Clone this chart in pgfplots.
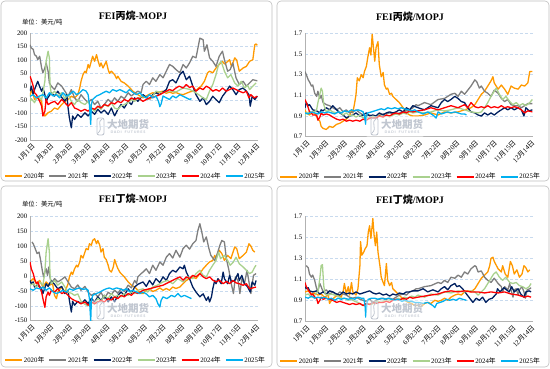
\documentclass[border=0pt]{standalone}
\usepackage{fontspec}
\setmainfont{Liberation Serif}
\newfontfamily\cjk{Noto Sans CJK SC}
\usepackage{pgfplots}
\pgfplotsset{compat=1.18}
\definecolor{cA}{RGB}{255,153,0}
\definecolor{cB}{RGB}{127,127,127}
\definecolor{cC}{RGB}{0,32,96}
\definecolor{cD}{RGB}{169,209,142}
\definecolor{cE}{RGB}{255,0,0}
\definecolor{cF}{RGB}{0,176,240}
\definecolor{gridc}{RGB}{200,218,238}
\definecolor{framec}{RGB}{190,190,190}
\definecolor{wm}{RGB}{192,198,208}
\newcommand\md[2]{#1{\cjk 月}#2{\cjk 日}}
\newcommand\yr[1]{#1{\cjk 年}}
\pgfplotsset{
 panel/.style={
  scale only axis, width=228pt, xmin=0, xmax=353,
  axis x line*=bottom, axis y line*=left,
  axis line style={draw=black!30, line width=0.6pt},
  ymajorgrids, grid style={densely dashed, draw=gridc, line width=0.5pt},
  xtick={0,29,58,87,116,145,174,203,232,261,290,319,348},
  xticklabels={\md{1}{1},\md{1}{30},\md{2}{28},\md{3}{28},\md{4}{26},\md{5}{25},\md{6}{23},\md{7}{22},\md{8}{20},\md{9}{18},\md{10}{17},\md{11}{15},\md{12}{14}},
  xticklabel style={rotate=45, anchor=north east, font=\fontsize{6.9}{7}\selectfont, inner sep=1pt, yshift=-2pt, text=black},
  yticklabel style={font=\fontsize{6.8}{8}\selectfont, inner sep=1pt, xshift=-1.5pt, text=black,
    /pgf/number format/assume math mode=true},
  major tick length=0pt,
  every axis plot/.append style={line width=1.3pt, line join=round, mark=none},
  legend columns=6,
  legend style={draw=none, fill=none, text=black, font=\fontsize{6.8}{8}\selectfont, anchor=north,
    /tikz/every even column/.append style={column sep=3.5pt}, inner sep=0pt,
    nodes={inner sep=0.6pt}},
  legend image code/.code={\draw[line width=2pt, ##1] (0pt,0pt) -- (17pt,0pt);},
 },
 ratio/.style={ymin=0.7, ymax=1.7, ytick={0.7,0.9,1.1,1.3,1.5,1.7},
  yticklabel style={/pgf/number format/fixed, /pgf/number format/fixed zerofill, /pgf/number format/precision=1}},
 spread/.style={yticklabel style={/pgf/number format/fixed, /pgf/number format/precision=0}},
}
\newcommand\watermark[2]{%
  \fill[white, fill opacity=0.45, rounded corners=2pt] (#1-36pt,#2+10pt) rectangle (#1+22pt,#2-11pt);
  \draw[wm, line width=0.9pt, rounded corners=2pt] (#1-31pt,#2+8pt) rectangle (#1-24pt,#2-9pt);
  \draw[wm, line width=0.8pt] (#1-30pt,#2-7pt) .. controls (#1-24pt,#2-2pt) and (#1-32pt,#2+3pt) .. (#1-26pt,#2+7pt);
  \node[wm, font=\cjk\bfseries\fontsize{10.5}{11}\selectfont, inner sep=0pt] at (#1,#2+2pt) {大地期货};
  \node[wm, font=\sffamily\bfseries\fontsize{3.6}{4}\selectfont, inner sep=0pt] at (#1,#2-6.5pt) {D\,A\,D\,I\ \ F\,U\,T\,U\,R\,E\,S};
}
\begin{document}
\begin{tikzpicture}
\path[use as bounding box] (0pt,0pt) rectangle (550pt,-368pt);
\draw[framec, line width=0.6pt, rounded corners=4pt] (1pt,-1pt) rectangle (272pt,-181pt);
\draw[framec, line width=0.6pt, rounded corners=4pt] (277pt,-1pt) rectangle (549pt,-181pt);
\draw[framec, line width=0.6pt, rounded corners=4pt] (1pt,-186pt) rectangle (272pt,-367pt);
\draw[framec, line width=0.6pt, rounded corners=4pt] (277pt,-186pt) rectangle (549pt,-367pt);

% ---------- Panel 1 ----------
\begin{axis}[panel, spread, at={(30pt,-140pt)}, anchor=south west, height=106.7pt,
  ymin=-200, ymax=200, ytick={-200,-150,-100,-50,0,50,100,150,200},
  legend style={at={(0.46,-0.30)}}]
\addplot[color=cA] coordinates {(0,-36)(2,-11)(5,-30)(7,-48)(12,-42)(18,-55)(20,-98)(23,-110)(28,-98)(33,-92)(38,-80)(43,-85)(49,-67)(54,-55)(59,-48)(64,-36)(69,-42)(74,-30)(77,-5)(79,20)(82,45)(85,58)(87,52)(90,83)(92,70)(97,114)(100,95)(103,120)(105,100)(108,76)(110,89)(113,70)(115,80)(118,95)(121,64)(123,50)(126,58)(131,45)(134,30)(136,39)(141,20)(146,14)(152,2)(157,-11)(162,-23)(167,-30)(175,-42)(180,-35)(185,-28)(190,-23)(195,-25)(200,-20)(206,-17)(211,-25)(216,-20)(221,-25)(226,-22)(232,-28)(237,-30)(242,-25)(247,-20)(252,-17)(257,-15)(261,-5)(265,2)(270,20)(275,52)(278,58)(283,52)(288,70)(293,83)(298,95)(301,85)(304,90)(309,101)(312,75)(317,108)(320,100)(324,58)(330,70)(335,76)(340,95)(345,101)(348,157)(350,160)(352,155)};
\addlegendentry{\yr{2020}}
\addplot[color=cB] coordinates {(0,157)(2,145)(5,140)(7,120)(10,114)(12,101)(15,114)(18,70)(20,52)(23,70)(25,89)(28,58)(30,14)(33,2)(38,-11)(43,14)(49,2)(54,-17)(59,-36)(64,-11)(69,-42)(74,-55)(79,-30)(85,-48)(90,-60)(95,-48)(100,-67)(105,-55)(110,-80)(115,-67)(121,-48)(126,-60)(131,-42)(136,-55)(141,-36)(146,-45)(152,-23)(157,-35)(162,-25)(167,-17)(172,-23)(175,8)(180,20)(185,8)(190,33)(195,20)(201,45)(206,33)(211,58)(216,83)(221,76)(226,64)(232,52)(237,83)(242,70)(247,89)(252,114)(257,108)(260,145)(263,182)(268,176)(270,133)(274,157)(278,108)(283,95)(288,76)(293,114)(298,133)(301,101)(306,58)(310,64)(314,89)(319,33)(324,8)(330,20)(335,2)(340,14)(345,26)(350,23)(352,22)};
\addlegendentry{\yr{2021}}
\addplot[color=cC] coordinates {(0,-17)(2,2)(5,-30)(7,-11)(10,8)(12,20)(15,0)(18,-17)(20,-5)(23,-30)(25,-55)(28,-40)(33,-23)(38,-35)(43,-17)(49,-40)(54,-55)(57,-30)(59,-80)(61,-117)(64,-154)(66,-110)(69,-123)(74,-104)(79,-115)(85,-98)(90,-110)(95,-92)(100,-104)(105,-85)(110,-98)(115,-88)(121,-104)(126,-80)(131,-110)(136,-85)(141,-67)(146,-80)(152,-55)(157,-67)(162,-42)(167,-55)(175,-30)(180,-40)(185,-48)(190,-30)(195,-23)(201,-30)(206,-20)(211,-11)(216,20)(221,26)(226,14)(232,45)(237,58)(242,26)(247,39)(252,2)(257,-30)(263,-55)(268,-42)(273,-67)(278,-55)(283,-36)(288,-48)(293,-60)(298,-36)(304,-17)(309,2)(314,-11)(319,-30)(324,-11)(330,-5)(335,-17)(339,-30)(341,-73)(344,-36)(348,-48)(352,-36)};
\addlegendentry{\yr{2022}}
\addplot[color=cD] coordinates {(0,-55)(2,-45)(7,-60)(12,-35)(18,-48)(20,-23)(23,20)(25,95)(28,133)(30,108)(31,8)(33,-30)(38,-17)(43,-35)(49,-23)(54,-45)(59,-30)(64,-55)(69,-67)(74,-48)(79,-60)(85,-67)(90,-55)(95,-80)(100,-92)(105,-75)(110,-85)(115,-67)(121,-75)(126,-60)(131,-80)(136,-85)(141,-72)(146,-67)(152,-60)(157,-48)(162,-55)(167,-42)(175,-36)(180,-42)(185,-48)(190,-35)(195,-17)(206,-23)(216,-17)(226,-20)(237,-5)(247,-10)(257,-23)(268,-42)(273,-48)(278,-17)(283,8)(288,45)(292,83)(296,95)(301,58)(306,33)(311,45)(317,14)(322,2)(327,20)(332,-5)(337,5)(340,-11)(345,2)(350,14)};
\addlegendentry{\yr{2023}}
\addplot[color=cE] coordinates {(0,39)(2,26)(5,2)(7,-23)(10,-30)(12,-42)(15,-55)(18,-73)(20,-110)(23,-92)(25,-48)(28,-67)(33,-60)(38,-55)(43,-67)(49,-48)(54,-60)(59,-73)(64,-60)(69,-80)(74,-85)(79,-92)(85,-85)(90,-92)(95,-80)(100,-85)(105,-73)(110,-80)(115,-67)(121,-72)(126,-60)(131,-65)(136,-55)(141,-60)(146,-48)(152,-55)(157,-42)(162,-48)(167,-42)(175,-55)(180,-48)(185,-42)(190,-40)(195,-36)(201,-30)(206,-23)(211,-17)(216,-11)(221,-15)(226,-5)(231,2)(237,-5)(242,8)(247,-3)(252,2)(257,-17)(263,-5)(268,-11)(273,2)(278,-5)(283,-17)(288,-11)(293,-17)(298,-5)(304,-17)(309,-11)(314,-5)(319,-11)(324,-17)(330,-23)(335,-17)(339,-42)(342,-30)(347,-42)(352,-36)};
\addlegendentry{\yr{2024}}
\addplot[color=cF] coordinates {(0,-36)(5,-30)(10,-42)(15,-35)(20,-30)(25,-42)(30,-23)(36,-35)(41,-30)(46,-42)(51,-23)(56,-35)(61,-30)(67,-17)(72,-30)(77,-23)(82,-11)(87,-17)(90,-30)(92,-67)(94,-142)(95,-67)(97,-48)(103,-35)(108,-30)(113,-23)(118,-17)(123,-23)(128,-11)(134,-17)(139,-11)(144,-17)(149,-23)(154,-11)(160,-23)(165,-30)(170,-23)(175,-36)(180,-42)(185,-30)(190,-42)(195,-35)(199,-55)(201,-75)(203,-65)(206,-35)(211,-42)(216,-48)(221,-35)(226,-42)(232,-30)(237,-36)(242,-42)(247,-48)(250,-45)};
\addlegendentry{\yr{2025}}
\end{axis}

% ---------- Panel 2 ----------
\begin{axis}[panel, ratio, at={(305pt,-136.7pt)}, anchor=south west, height=103.4pt,
  legend style={at={(0.46,-0.345)}}]
\addplot[color=cA] coordinates {(0,0.96)(2,0.93)(7,0.91)(12,0.94)(18,0.90)(20,0.87)(23,0.85)(25,0.80)(28,0.78)(33,0.77)(38,0.80)(43,0.79)(49,0.82)(54,0.83)(59,0.85)(64,0.87)(69,0.90)(72,0.96)(74,0.93)(77,1.03)(79,1.11)(81,1.27)(84,1.24)(87,1.30)(90,1.27)(92,1.33)(95,1.38)(97,1.46)(100,1.56)(102,1.49)(104,1.69)(106,1.56)(108,1.43)(110,1.56)(113,1.62)(115,1.40)(118,1.28)(121,1.32)(123,1.20)(126,1.16)(128,1.17)(131,1.11)(134,1.12)(136,1.09)(141,1.06)(146,1.03)(152,0.98)(157,0.93)(162,0.91)(167,0.90)(175,0.90)(185,0.91)(195,0.93)(206,0.91)(216,0.94)(226,0.93)(237,0.94)(247,0.96)(257,0.98)(263,1.01)(268,1.06)(273,1.11)(278,1.14)(283,1.19)(288,1.24)(291,1.28)(293,1.22)(299,1.16)(304,1.20)(309,1.16)(314,1.11)(319,1.19)(324,1.17)(330,1.16)(335,1.20)(340,1.19)(345,1.22)(348,1.33)(352,1.33)};
\addlegendentry{\yr{2020}}
\addplot[color=cB] coordinates {(0,1.33)(2,1.30)(5,1.25)(7,1.23)(10,1.19)(12,1.20)(15,1.12)(18,1.09)(20,1.14)(23,1.07)(25,1.10)(28,1.03)(33,1.01)(38,1.00)(43,0.98)(49,0.96)(54,0.98)(59,0.94)(64,0.96)(69,0.93)(74,0.94)(79,0.96)(85,0.93)(90,0.91)(95,0.90)(100,0.91)(105,0.90)(110,0.88)(115,0.91)(121,0.92)(131,0.93)(141,0.92)(152,0.94)(162,0.96)(167,0.98)(172,1.01)(175,1.00)(185,1.03)(195,1.01)(206,1.06)(216,1.07)(226,1.11)(232,1.12)(237,1.09)(242,1.14)(247,1.11)(252,1.15)(257,1.19)(263,1.25)(266,1.23)(270,1.17)(273,1.19)(278,1.14)(283,1.12)(288,1.09)(293,1.15)(299,1.12)(304,1.07)(309,1.04)(314,1.06)(319,1.01)(324,1.00)(330,1.00)(335,0.98)(340,1.00)(345,1.02)(352,1.02)};
\addlegendentry{\yr{2021}}
\addplot[color=cC] coordinates {(0,0.98)(2,1.03)(5,1.00)(7,1.01)(10,0.98)(12,0.96)(18,0.95)(23,0.93)(25,0.96)(28,0.95)(33,0.98)(38,0.96)(43,1.00)(49,0.96)(54,0.93)(59,0.91)(64,0.88)(69,0.90)(74,0.91)(79,0.93)(85,0.90)(90,0.91)(95,0.93)(100,0.90)(105,0.91)(110,0.90)(115,0.93)(121,0.91)(126,0.93)(131,0.94)(136,0.93)(141,0.94)(146,0.96)(152,0.94)(157,0.98)(162,0.96)(167,1.00)(175,0.98)(185,0.96)(195,1.00)(206,0.98)(211,1.03)(216,1.06)(221,1.04)(226,1.06)(232,1.09)(237,1.07)(242,1.04)(247,1.03)(252,0.98)(257,0.94)(263,0.93)(268,0.91)(273,0.90)(278,0.93)(283,0.91)(288,0.93)(293,0.91)(299,0.94)(304,0.96)(309,0.98)(314,0.96)(319,0.98)(324,0.96)(330,0.98)(335,0.96)(339,0.90)(342,0.98)(347,0.95)(352,0.96)};
\addlegendentry{\yr{2022}}
\addplot[color=cD] coordinates {(0,0.90)(2,0.93)(7,0.94)(12,0.93)(18,0.96)(20,1.03)(23,1.11)(25,1.17)(27,1.14)(29,1.01)(33,0.94)(38,0.96)(43,0.94)(49,0.93)(54,0.94)(59,0.91)(64,0.93)(69,0.90)(74,0.91)(79,0.89)(85,0.91)(90,0.88)(95,0.90)(100,0.87)(105,0.90)(110,0.88)(115,0.91)(121,0.89)(126,0.91)(131,0.89)(136,0.91)(141,0.92)(146,0.91)(152,0.93)(157,0.92)(162,0.94)(167,0.93)(175,0.94)(185,0.93)(195,0.94)(206,0.96)(216,0.95)(226,0.96)(237,0.98)(247,0.96)(257,0.94)(268,0.93)(273,0.94)(278,0.98)(283,1.03)(288,1.09)(293,1.14)(296,1.17)(301,1.11)(306,1.06)(311,1.09)(317,1.04)(322,1.01)(327,1.03)(332,1.00)(337,1.02)(342,1.00)(348,1.03)(352,1.06)};
\addlegendentry{\yr{2023}}
\addplot[color=cE] coordinates {(0,1.06)(2,1.03)(5,0.98)(7,0.94)(10,0.93)(12,0.91)(18,0.91)(20,0.86)(23,0.89)(25,0.93)(28,0.91)(33,0.92)(38,0.91)(43,0.89)(49,0.87)(54,0.86)(59,0.87)(64,0.85)(69,0.86)(74,0.85)(79,0.86)(85,0.85)(90,0.87)(95,0.86)(100,0.88)(105,0.88)(110,0.88)(115,0.90)(121,0.89)(126,0.91)(131,0.90)(136,0.92)(141,0.93)(146,0.92)(152,0.94)(157,0.93)(162,0.95)(167,0.94)(175,0.95)(185,0.96)(195,0.98)(206,0.96)(216,0.98)(226,1.00)(237,0.98)(247,1.01)(252,0.98)(257,1.03)(263,0.99)(268,0.98)(273,0.99)(278,0.98)(283,1.00)(288,0.98)(293,0.99)(299,0.98)(304,1.00)(309,0.98)(314,0.99)(319,0.98)(324,0.99)(330,0.98)(335,0.96)(340,0.93)(345,0.95)(352,0.94)};
\addlegendentry{\yr{2024}}
\addplot[color=cF] coordinates {(0,0.93)(5,0.92)(10,0.94)(15,0.93)(20,0.92)(25,0.94)(30,0.93)(36,0.94)(41,0.93)(46,0.92)(51,0.94)(56,0.93)(61,0.95)(67,0.94)(72,0.96)(77,0.95)(82,0.96)(87,0.95)(90,0.94)(92,0.90)(94,0.82)(95,0.90)(97,0.93)(103,0.94)(108,0.95)(113,0.96)(118,0.97)(123,0.96)(128,0.98)(134,0.97)(139,0.98)(144,0.97)(149,0.98)(154,0.97)(160,0.96)(165,0.95)(170,0.96)(175,0.94)(183,0.92)(190,0.94)(198,0.91)(203,0.88)(206,0.94)(211,0.92)(216,0.93)(221,0.94)(226,0.93)(232,0.94)(237,0.93)(242,0.92)(247,0.92)(250,0.91)};
\addlegendentry{\yr{2025}}
\end{axis}

% ---------- Panel 3 ----------
\begin{axis}[panel, spread, at={(30pt,-320.7pt)}, anchor=south west, height=104.4pt,
  ymin=-150, ymax=200, ytick={-150,-100,-50,0,50,100,150,200},
  legend style={at={(0.46,-0.335)}}]
\addplot[color=cA] coordinates {(0,-20)(5,-9)(10,-26)(15,-15)(20,-37)(25,-20)(30,-31)(35,-26)(38,-65)(41,-76)(43,-54)(49,-37)(54,-54)(59,-26)(61,-3)(64,13)(66,5)(69,24)(72,36)(74,30)(77,47)(79,69)(82,60)(85,80)(87,92)(90,88)(92,108)(95,103)(97,119)(100,125)(103,108)(105,119)(108,103)(110,80)(113,92)(115,63)(118,55)(121,36)(123,19)(126,13)(129,30)(131,55)(134,36)(136,25)(139,13)(141,8)(146,-3)(152,-20)(157,-31)(162,-37)(167,-48)(172,-59)(175,-59)(180,-48)(185,-43)(190,-52)(195,-48)(201,-40)(206,-48)(211,-42)(216,-48)(221,-37)(226,-42)(232,-37)(237,-26)(242,-15)(247,-9)(252,-3)(257,-9)(263,8)(268,24)(273,36)(278,47)(283,52)(286,69)(288,60)(293,86)(297,75)(301,52)(306,69)(311,58)(317,97)(320,92)(324,58)(330,69)(335,80)(339,108)(342,100)(345,86)(348,80)};
\addlegendentry{\yr{2020}}
\addplot[color=cB] coordinates {(3,114)(5,108)(8,92)(11,75)(14,80)(16,58)(19,19)(21,-3)(23,13)(25,24)(27,2)(29,30)(31,-5)(33,-26)(38,-9)(43,-20)(49,-12)(54,-3)(59,-20)(64,-37)(69,-43)(74,-30)(79,-48)(85,-35)(90,-54)(95,-65)(100,-58)(105,-70)(110,-55)(115,-76)(121,-55)(126,-62)(131,-48)(136,-58)(141,-43)(146,-52)(152,-31)(157,-40)(162,-15)(165,-25)(167,-3)(172,8)(175,13)(180,24)(185,8)(190,36)(195,19)(201,47)(206,36)(211,63)(216,75)(221,60)(226,86)(232,63)(237,92)(242,103)(247,90)(252,108)(257,119)(260,153)(263,175)(266,147)(269,114)(273,131)(277,92)(280,69)(286,52)(290,75)(294,103)(297,119)(301,114)(304,58)(308,19)(311,-20)(315,-59)(318,-3)(322,-15)(325,-59)(328,-9)(332,-26)(336,19)(339,-20)(342,-59)(346,2)(350,8)};
\addlegendentry{\yr{2021}}
\addplot[color=cC] coordinates {(0,-15)(2,-26)(5,-20)(7,-37)(12,-30)(18,-43)(20,-59)(23,-40)(25,-26)(28,-35)(33,-15)(38,-28)(43,-43)(49,-35)(54,-59)(59,-50)(61,-82)(64,-121)(66,-85)(69,-98)(74,-85)(79,-93)(85,-80)(90,-93)(95,-75)(100,-87)(105,-70)(110,-82)(115,-65)(121,-87)(126,-70)(131,-87)(136,-65)(141,-54)(146,-65)(152,-43)(157,-59)(162,-37)(167,-28)(175,-20)(180,-35)(185,-15)(190,-30)(195,-9)(201,-22)(206,-3)(211,-15)(216,8)(221,19)(226,13)(232,30)(237,24)(239,36)(242,13)(247,-9)(252,-37)(257,-54)(263,-70)(268,-60)(273,-82)(276,-70)(278,-87)(281,-70)(283,-43)(286,-15)(288,-26)(291,-9)(296,-26)(299,13)(301,-9)(306,-26)(309,2)(312,-20)(317,-15)(322,8)(324,-15)(328,2)(332,-26)(337,-37)(341,-54)(344,-20)(348,-31)(350,-15)};
\addlegendentry{\yr{2022}}
\addplot[color=cD] coordinates {(0,-31)(5,-26)(10,-37)(15,-20)(20,-31)(23,13)(25,80)(28,125)(30,80)(31,2)(33,-26)(38,-15)(43,-31)(49,-20)(54,-37)(59,-54)(64,-58)(69,-65)(74,-60)(79,-85)(85,-95)(90,-100)(95,-88)(100,-95)(105,-75)(110,-85)(115,-65)(121,-75)(126,-59)(131,-70)(136,-65)(141,-70)(146,-59)(152,-65)(157,-54)(162,-59)(167,-48)(175,-43)(182,-54)(190,-37)(197,-31)(206,-20)(213,-15)(221,-26)(229,-9)(237,-20)(244,-3)(252,-9)(257,8)(263,19)(268,2)(273,-3)(278,19)(283,36)(288,52)(292,80)(295,58)(301,69)(306,52)(310,36)(315,47)(319,63)(324,41)(330,30)(335,19)(340,8)(344,13)(348,30)(350,36)};
\addlegendentry{\yr{2023}}
\addplot[color=cE] coordinates {(0,47)(2,24)(5,8)(7,-9)(10,-26)(12,-20)(15,-37)(18,-54)(20,-76)(23,-105)(25,-70)(28,-54)(30,-65)(33,-48)(38,-54)(43,-43)(49,-59)(54,-54)(59,-65)(64,-76)(69,-82)(74,-87)(79,-93)(85,-87)(90,-98)(95,-87)(100,-93)(105,-87)(110,-82)(115,-87)(121,-76)(126,-82)(131,-70)(136,-76)(141,-65)(146,-70)(152,-59)(157,-65)(162,-54)(167,-59)(175,-48)(185,-43)(195,-37)(206,-31)(216,-20)(226,-9)(232,-3)(237,-14)(242,-3)(247,-9)(252,2)(257,-3)(263,8)(268,-3)(273,-9)(278,-3)(283,-14)(288,-20)(293,-14)(299,-26)(304,-18)(309,-26)(314,-15)(319,-23)(324,-26)(330,-31)(335,-26)(340,-43)(345,-40)(350,-37)};
\addlegendentry{\yr{2024}}
\addplot[color=cF] coordinates {(0,-43)(5,-48)(10,-40)(15,-43)(20,-37)(25,-48)(30,-40)(36,-54)(41,-59)(46,-54)(51,-48)(56,-54)(61,-43)(67,-48)(72,-43)(77,-40)(82,-45)(87,-43)(90,-48)(92,-76)(94,-150)(95,-87)(97,-65)(103,-59)(108,-54)(113,-48)(118,-43)(123,-40)(128,-45)(134,-40)(139,-43)(144,-48)(149,-43)(154,-52)(159,-48)(165,-54)(170,-59)(175,-54)(180,-60)(185,-70)(190,-65)(195,-76)(198,-93)(201,-104)(203,-82)(206,-70)(212,-76)(219,-65)(224,-70)(229,-59)(234,-70)(239,-65)(244,-70)(250,-76)};
\addlegendentry{\yr{2025}}
\end{axis}

% ---------- Panel 4 ----------
\begin{axis}[panel, ratio, at={(305pt,-321.3pt)}, anchor=south west, height=105pt,
  legend style={at={(0.46,-0.335)}}]
\addplot[color=cA] coordinates {(0,0.98)(5,0.99)(10,0.96)(15,0.97)(20,0.95)(25,0.96)(30,0.93)(36,0.95)(38,0.87)(41,0.90)(46,0.93)(51,0.95)(56,0.93)(59,0.98)(61,1.06)(64,0.96)(67,1.03)(69,0.95)(72,1.07)(74,0.98)(79,0.95)(82,1.01)(85,1.23)(86,1.46)(88,1.33)(91,1.36)(93,1.39)(96,1.42)(98,1.55)(100,1.61)(102,1.49)(104,1.61)(105,1.68)(107,1.52)(109,1.42)(111,1.55)(113,1.36)(116,1.23)(118,1.12)(121,1.07)(123,1.04)(126,1.25)(128,1.09)(131,1.04)(134,1.07)(136,1.01)(141,0.98)(144,0.96)(149,0.93)(154,0.90)(160,0.88)(165,0.87)(170,0.85)(175,0.85)(180,0.84)(185,0.87)(190,0.88)(195,0.87)(201,0.90)(206,0.89)(211,0.90)(216,0.92)(221,0.90)(226,0.93)(232,0.95)(237,0.96)(242,0.95)(247,0.98)(252,0.99)(257,0.98)(263,1.01)(268,1.06)(273,1.11)(278,1.14)(283,1.17)(286,1.23)(288,1.30)(291,1.31)(293,1.27)(299,1.20)(304,1.17)(306,1.23)(310,1.15)(314,1.12)(318,1.27)(321,1.23)(324,1.15)(328,1.19)(332,1.12)(336,1.15)(339,1.23)(342,1.21)(345,1.17)(348,1.19)};
\addlegendentry{\yr{2020}}
\addplot[color=cB] coordinates {(2,1.23)(5,1.21)(7,1.15)(10,1.12)(12,1.14)(15,1.09)(18,1.01)(20,0.99)(23,1.06)(25,1.03)(28,0.98)(33,1.00)(38,0.96)(43,0.98)(49,0.95)(54,0.98)(59,0.96)(64,0.95)(69,0.93)(74,0.92)(79,0.93)(85,0.91)(90,0.90)(95,0.89)(100,0.91)(105,0.88)(110,0.90)(115,0.91)(121,0.92)(126,0.91)(131,0.92)(136,0.91)(141,0.93)(146,0.95)(152,0.96)(157,0.95)(162,0.98)(167,0.99)(172,1.01)(175,1.01)(185,1.03)(195,1.04)(206,1.07)(211,1.06)(216,1.09)(221,1.07)(226,1.12)(232,1.11)(237,1.14)(242,1.12)(247,1.17)(252,1.15)(257,1.20)(263,1.23)(265,1.22)(268,1.17)(273,1.18)(278,1.12)(283,1.09)(288,1.07)(293,1.11)(299,1.06)(304,1.03)(306,0.98)(309,1.03)(314,1.00)(317,1.06)(319,1.00)(322,0.93)(324,1.00)(327,1.01)(330,0.95)(332,1.00)(336,1.03)(339,0.98)(341,0.92)(344,1.00)(348,1.01)(350,1.02)};
\addlegendentry{\yr{2021}}
\addplot[color=cC] coordinates {(0,1.03)(2,1.01)(5,1.02)(7,0.99)(12,0.98)(18,0.99)(23,0.96)(28,0.98)(33,0.96)(38,0.99)(43,0.98)(49,0.96)(54,0.95)(59,0.98)(64,0.96)(69,0.97)(74,0.96)(79,0.98)(85,0.96)(90,0.97)(95,0.98)(100,0.99)(105,0.97)(110,0.96)(115,0.97)(121,0.95)(126,0.96)(131,0.94)(136,0.96)(141,0.95)(146,0.97)(152,0.96)(157,0.98)(162,0.98)(167,0.99)(175,0.99)(183,1.01)(190,0.98)(198,1.00)(206,0.98)(211,1.01)(216,1.03)(221,1.00)(226,1.04)(232,1.06)(235,1.03)(239,1.04)(244,1.01)(250,0.96)(255,0.92)(260,0.88)(265,0.92)(270,0.90)(275,0.93)(280,0.88)(285,0.91)(290,0.92)(296,0.96)(298,1.01)(302,0.98)(308,1.02)(312,1.00)(316,0.98)(320,1.03)(324,0.98)(330,1.01)(334,0.96)(339,0.93)(342,0.98)(347,0.99)(350,0.98)};
\addlegendentry{\yr{2022}}
\addplot[color=cD] coordinates {(0,0.95)(5,0.96)(10,0.93)(15,0.95)(20,0.98)(23,1.11)(25,1.23)(27,1.24)(29,1.04)(31,0.96)(36,0.95)(41,0.96)(46,0.95)(51,0.94)(56,0.92)(61,0.92)(67,0.90)(72,0.91)(77,0.89)(82,0.88)(87,0.86)(92,0.85)(97,0.87)(103,0.86)(108,0.88)(113,0.89)(118,0.88)(123,0.90)(128,0.89)(134,0.91)(139,0.90)(144,0.92)(149,0.91)(154,0.93)(159,0.92)(165,0.94)(170,0.93)(175,0.95)(185,0.93)(195,0.96)(206,0.95)(216,0.98)(226,0.97)(237,0.99)(247,0.98)(257,0.99)(263,0.98)(268,0.95)(273,0.98)(278,1.01)(283,1.06)(288,1.11)(292,1.15)(296,1.17)(301,1.12)(306,1.09)(311,1.12)(317,1.07)(322,1.06)(327,1.07)(332,1.04)(337,1.03)(342,1.01)(347,1.03)(350,1.06)};
\addlegendentry{\yr{2023}}
\addplot[color=cE] coordinates {(0,1.07)(2,1.03)(5,1.00)(7,0.98)(10,0.95)(12,0.96)(15,0.93)(18,0.92)(20,0.87)(23,0.90)(25,0.93)(28,0.91)(33,0.92)(38,0.91)(43,0.90)(49,0.88)(54,0.89)(59,0.88)(64,0.87)(69,0.86)(74,0.87)(79,0.86)(85,0.87)(90,0.85)(95,0.87)(100,0.86)(105,0.88)(110,0.87)(115,0.88)(121,0.88)(126,0.89)(131,0.88)(136,0.90)(141,0.91)(146,0.90)(152,0.92)(157,0.91)(162,0.93)(167,0.92)(175,0.93)(185,0.94)(195,0.95)(206,0.96)(216,0.98)(226,0.99)(237,0.98)(247,0.99)(257,0.98)(268,0.98)(278,0.97)(288,0.98)(299,0.97)(309,0.98)(319,0.96)(330,0.95)(340,0.93)(345,0.94)(350,0.93)};
\addlegendentry{\yr{2024}}
\addplot[color=cF] coordinates {(0,0.93)(5,0.92)(10,0.94)(15,0.92)(20,0.93)(25,0.92)(30,0.93)(36,0.91)(41,0.92)(46,0.90)(51,0.92)(56,0.91)(61,0.92)(67,0.91)(72,0.92)(77,0.91)(82,0.93)(87,0.92)(91,0.92)(93,0.85)(94,0.74)(96,0.88)(98,0.91)(103,0.92)(108,0.92)(113,0.91)(118,0.92)(124,0.91)(129,0.92)(134,0.91)(139,0.90)(144,0.91)(150,0.89)(155,0.90)(160,0.89)(165,0.89)(170,0.88)(175,0.88)(183,0.87)(190,0.88)(198,0.85)(201,0.83)(204,0.87)(209,0.88)(214,0.89)(219,0.91)(224,0.90)(229,0.91)(234,0.90)(239,0.92)(244,0.91)(250,0.90)};
\addlegendentry{\yr{2025}}
\end{axis}

% watermarks
\watermark{128pt}{-126pt}
\watermark{402pt}{-126pt}
\watermark{128pt}{-310pt}
\watermark{402pt}{-310pt}

% titles and units
\node[font=\bfseries\fontsize{10}{12}\selectfont, inner sep=0pt] at (133pt,-16pt) {FEI{\cjk 丙烷}-MOPJ};
\node[font=\bfseries\fontsize{10}{12}\selectfont, inner sep=0pt] at (410pt,-17pt) {FEI{\cjk 丙烷}/MOPJ};
\node[font=\bfseries\fontsize{10}{12}\selectfont, inner sep=0pt] at (133pt,-199pt) {FEI{\cjk 丁烷}-MOPJ};
\node[font=\bfseries\fontsize{10}{12}\selectfont, inner sep=0pt] at (410pt,-200pt) {FEI{\cjk 丁烷}/MOPJ};
\node[font=\cjk\fontsize{6.3}{7}\selectfont, anchor=west, inner sep=0pt] at (22pt,-22pt) {单位：美元/吨};
\node[font=\cjk\fontsize{6.3}{7}\selectfont, anchor=west, inner sep=0pt] at (22pt,-204pt) {单位：美元/吨};
\end{tikzpicture}
\end{document}
